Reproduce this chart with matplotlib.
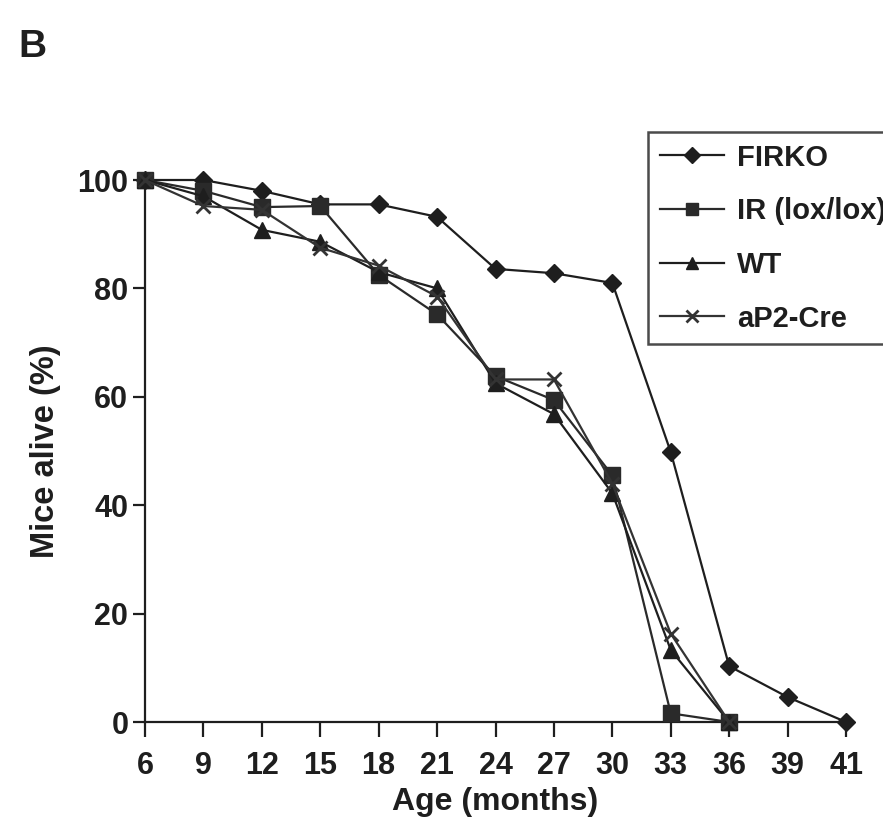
import matplotlib
matplotlib.use("Agg")
import matplotlib.pyplot as plt

# Survival data (% of mice alive) by age in months
ages = ["6", "9", "12", "15", "18", "21", "24", "27", "30", "33", "36", "39", "41"]
firko = [100, 100, 98, 95.5, 95.5, 93.2, 83.6, 82.8, 81.0, 49.8, 10.3, 4.6, 0]
ir_lox = [100, 98, 95, 95.2, 82.5, 75.2, 63.8, 59.4, 45.5, 1.6, 0]
wt = [100, 97, 90.8, 88.6, 83, 80, 62.5, 56.8, 42.2, 13.3, 0]
ap2_cre = [100, 95.2, 94.5, 87.5, 84.2, 78.5, 63.2, 63.2, 44, 16.3, 0]

series_names = ["FIRKO", "IR (lox/lox)", "WT", "aP2-Cre"]
y_ticks = [0, 20, 40, 60, 80, 100]

plt.rcParams["font.family"] = ["Liberation Sans", "DejaVu Sans"]
plt.rcParams["font.weight"] = "bold"

fig = plt.figure(figsize=(8.83, 8.30), dpi=100)
ax = fig.add_axes([145 / 883, 1 - 722 / 830, (846 - 145) / 883, (722 - 180) / 830])

ink = "#1e1e1e"
styles = [
    dict(marker="D", markersize=9, color=ink),
    dict(marker="s", markersize=11, color="#2a2a2a"),
    dict(marker="^", markersize=11, color=ink),
    dict(marker="x", markersize=10, markeredgewidth=2, color="#333333"),
]
data = [firko, ir_lox, wt, ap2_cre]

for name, vals, st in zip(series_names, data, styles):
    xs = list(range(len(vals)))
    ax.plot(xs, vals, linewidth=1.6, label=name, clip_on=False, zorder=3, **st)

ax.set_xlim(0, len(ages) - 1)
ax.set_ylim(0, 100)
ax.set_xticks(range(len(ages)))
ax.set_xticklabels(ages)
ax.set_yticks(y_ticks)

for s in ["top", "right"]:
    ax.spines[s].set_visible(False)
for s in ["left", "bottom"]:
    ax.spines[s].set_linewidth(1.6)
    ax.spines[s].set_color(ink)

ax.tick_params(axis="both", direction="out", width=1.6, color=ink,
               labelsize=22, labelcolor=ink)
ax.tick_params(axis="x", length=11, pad=10)
ax.tick_params(axis="y", length=9, pad=3)

ax.set_xlabel("Age (months)", fontsize=23, fontweight="bold", color=ink, labelpad=4)
ax.set_ylabel("Mice alive (%)", fontsize=23.5, fontweight="bold", color=ink, labelpad=12)

fig.text(18 / 883, 1 - 47 / 830, "B", fontsize=28, fontweight="bold", color=ink,
         va="center", ha="left")

# Legend box runs past the right edge of the figure
leg = fig.legend(loc="upper left", bbox_to_anchor=(648 / 883, 1 - 132 / 830),
                 fontsize=21, frameon=True, fancybox=False, handlelength=2.2,
                 handletextpad=0.45, labelspacing=0.88, borderpad=0.4,
                 borderaxespad=0, markerscale=0.85)
leg.get_frame().set_edgecolor(ink)
leg.get_frame().set_linewidth(1.8)
for t in leg.get_texts():
    t.set_color(ink)

fig.savefig("out.png", dpi=100, facecolor="white")
